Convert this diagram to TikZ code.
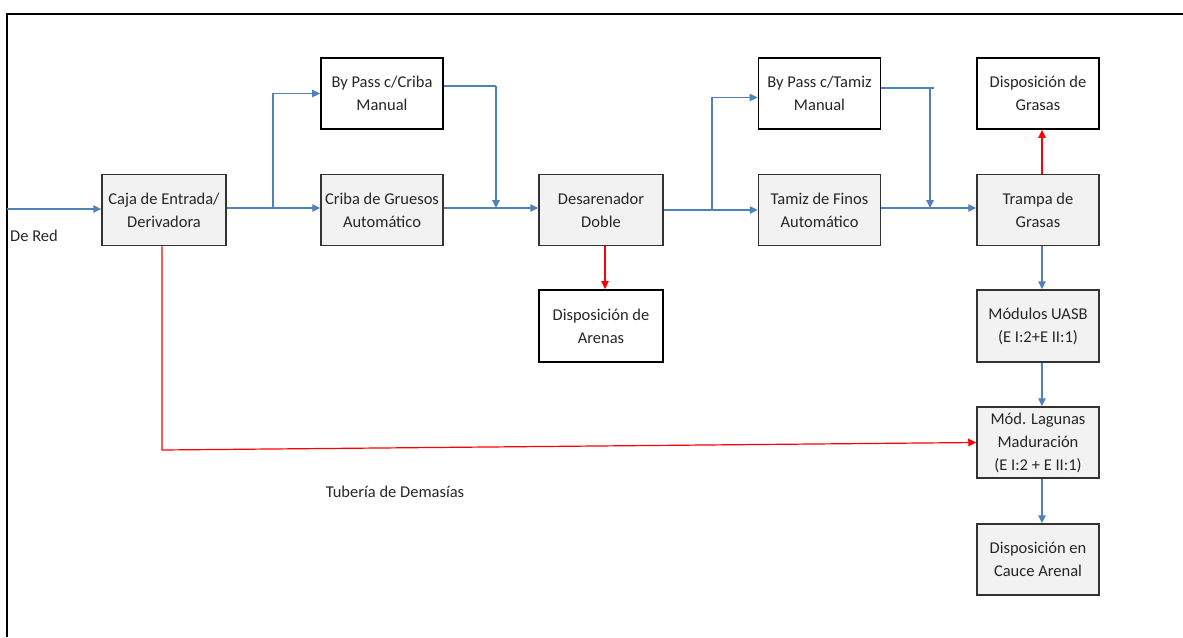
\documentclass[tikz,border=0pt]{standalone}
\usepackage{fontspec}
\setmainfont{Carlito}
\usetikzlibrary{arrows.meta,calc}
\definecolor{flowblue}{HTML}{4F81BD}
\definecolor{boxgray}{HTML}{F2F2F2}
\definecolor{redline}{HTML}{FF0000}
\tikzset{
  base/.style={rectangle, align=center, minimum width=122pt, minimum height=71pt,
    inner sep=2pt, font=\fontsize{16.5}{23}\selectfont, text=black!85},
  whitebox/.style={base, draw=black, line width=1.8pt, fill=white},
  graybox/.style={base, draw=black!80, line width=1.5pt, fill=boxgray},
  blueflow/.style={draw=flowblue, line width=1.3pt, -{Triangle[length=8pt,width=7.5pt]}},
  blueline/.style={draw=flowblue, line width=1.3pt},
  redflow/.style={draw=redline, line width=1.2pt, -{Triangle[length=8pt,width=7.5pt]}},
  plainlabel/.style={font=\fontsize{16.5}{20}\selectfont, text=black!85, inner sep=0pt}
}
\begin{document}
\begin{tikzpicture}[x=1pt,y=-1pt]
\useasboundingbox (0,0) rectangle (1183,637);
% frame
\draw[line width=1.5pt] (7,637) -- (7,14) -- (1183,14);

% nodes
\node[graybox, minimum width=124pt] (caja) at (164,210) {Caja de Entrada/\\Derivadora};
\node[whitebox] (bpc) at (382,93.5) {By Pass c/Criba\\Manual};
\node[graybox] (cri) at (382,210) {Criba de Gruesos\\Automático};
\node[graybox, minimum width=124pt] (des) at (601,210) {Desarenador\\Doble};
\node[whitebox, minimum width=124pt, minimum height=72pt] (are) at (601,326) {Disposición de\\Arenas};
\node[whitebox] (bpt) at (819.5,93.5) {By Pass c/Tamiz\\Manual};
\node[graybox] (tam) at (819.5,210) {Tamiz de Finos\\Automático};
\node[whitebox] (gra) at (1038,93.5) {Disposición de\\Grasas};
\node[graybox] (tra) at (1038,210) {Trampa de\\Grasas};
\node[graybox, minimum height=72pt] (uas) at (1038,326) {Módulos UASB\\(E I:2+E II:1)};
\node[graybox] (lag) at (1038,442.5) {Mód. Lagunas\\Maduración\\(E I:2 + E II:1)};
\node[graybox] (cau) at (1038,559.5) {Disposición en\\Cauce Arenal};

% labels
\node[plainlabel, anchor=west] (dered) at (10,236) {De Red};
\node[plainlabel] (tub) at (395,492) {Tubería de Demasías};

% junction coordinates
\coordinate (in) at (7,209);
\coordinate (j1) at (273,208);
\coordinate (j2) at (496,208);
\coordinate (k2) at (496,86);
\coordinate (j3) at (712,210);
\coordinate (j4) at (930,208);
\coordinate (k4) at (934,88);
\coordinate (r1) at (162,450);

% blue flows
\draw[blueflow] (in) -- (caja.west |- in);
\draw[blueline] (caja.east |- j1) -- (j1);
\draw[blueflow] (j1) -- (cri.west |- j1);
\draw[blueflow] (j1) |- (bpc.west);
\draw[blueline] (bpc.east |- k2) -- (k2);
\draw[blueflow] (k2) -- (j2);
\draw[blueflow] (cri.east |- j2) -- (des.west |- j2);
\draw[blueline] (des.east |- j3) -- (j3);
\draw[blueflow] (j3) -- (tam.west |- j3);
\draw[blueflow] (j3) |- ([yshift=-4pt]bpt.west);
\draw[blueline] (bpt.east |- k4) -- (k4);
\draw[blueflow] (j4 |- k4) -- (j4);
\draw[blueflow] (tam.east |- j4) -- (tra.west |- j4);
\draw[blueflow] ([xshift=4pt]tra.south) -- ([xshift=4pt]uas.north);
\draw[blueflow] ([xshift=4pt]uas.south) -- ([xshift=4pt]lag.north);
\draw[blueflow] ([xshift=4pt]lag.south) -- ([xshift=4pt]cau.north);

% red flows
\draw[redflow] ([xshift=4pt]tra.north) -- ([xshift=4pt]gra.south);
\draw[redflow] ([xshift=4pt]des.south) -- ([xshift=4pt]are.north);
\draw[redflow] (caja.south -| r1) -- (r1) -- (lag.west);
\end{tikzpicture}
\end{document}
